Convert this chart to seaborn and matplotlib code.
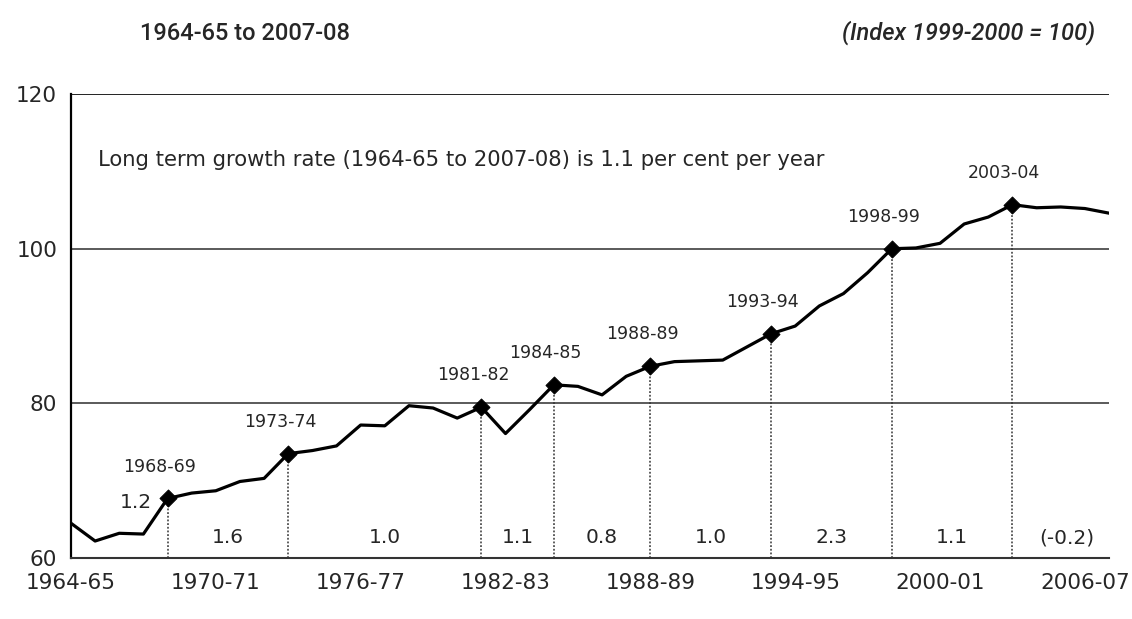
import numpy as np
import pandas as pd
import matplotlib.pyplot as plt
import seaborn as sns

# Productivity index, 1964-65 to 2007-08 (1999-2000 = 100)
years = ['%d-%02d' % (y, (y + 1) % 100) for y in range(1964, 2008)]
index_values = [64.5, 62.2, 63.2, 63.1, 67.7, 68.4, 68.7, 69.9, 70.3, 73.5,
                73.9, 74.5, 77.2, 77.1, 79.7, 79.4, 78.1, 79.5, 76.1, 79.2,
                82.4, 82.2, 81.1, 83.5, 84.8, 85.4, 85.5, 85.6, 87.3, 89.0,
                90.0, 92.6, 94.2, 96.9, 100.0, 100.1, 100.7, 103.2, 104.1, 105.7,
                105.3, 105.4, 105.2, 104.6]

# cycle peaks and growth rates between them
peak_years = ['1968-69', '1973-74', '1981-82', '1984-85', '1988-89',
              '1993-94', '1998-99', '2003-04']
growth_labels = ['1.2', '1.6', '1.0', '1.1', '0.8', '1.0', '2.3', '1.1', '(-0.2)']

tick_labels = ['1964-65', '1970-71', '1976-77', '1982-83', '1988-89',
               '1994-95', '2000-01', '2006-07']

df = pd.DataFrame({'year': years, 'value': index_values})
df['pos'] = np.arange(len(df))
peaks = df[df['year'].isin(peak_years)]

sns.set_style('white')
plt.rcParams['font.family'] = ['DejaVu Sans']

fig = plt.figure(figsize=(11.32, 6.19), dpi=100)
ax = fig.add_axes([0.0627, 0.0985, 0.9170, 0.7495])

# gridlines
for g in [80, 100]:
    ax.axhline(g, color='#4d4d4d', lw=1.3, zorder=1)
ax.axhline(120, color='#222222', lw=1.4, zorder=1)

# dotted drop lines from each peak
for _, r in peaks.iterrows():
    ax.plot([r['pos'], r['pos']], [60, r['value']], color='#333333',
            lw=1.1, ls=(0, (1.2, 1.2)), zorder=2)

sns.lineplot(data=df, x='pos', y='value', color='black', lw=2.3, ax=ax, zorder=3)
sns.scatterplot(data=peaks, x='pos', y='value', marker='D', s=75, color='black',
                edgecolor='black', ax=ax, zorder=4)

for _, r in peaks.iterrows():
    ax.annotate(r['year'], (r['pos'], r['value']), xytext=(-6, 23),
                textcoords='offset points', ha='center', va='center', fontsize=12.5)

# growth rates between peaks
pk = list(peaks['pos'])
ax.annotate(growth_labels[0], (pk[0], peaks['value'].iloc[0]), xytext=(-23, -3),
            textcoords='offset points', ha='center', va='center', fontsize=14.5)
bounds = pk + [df['pos'].iloc[-1] + 0.5]
for i, lab in enumerate(growth_labels[1:]):
    ax.text((bounds[i] + bounds[i + 1]) / 2, 62.6, lab, ha='center', va='center',
            fontsize=14.5)

ax.text(1.1, 111.5, 'Long term growth rate (1964-65 to 2007-08) is 1.1 per cent per year',
        ha='left', va='center', fontsize=15.2)

ax.set_xlim(0, len(df) - 1)
ax.set_ylim(60, 120)
ax.set_yticks([60, 80, 100, 120])
ax.set_xticks(np.arange(0, len(df), 6))
ax.set_xticklabels(tick_labels)
ax.tick_params(axis='both', labelsize=15.5, length=6, width=1.2, color='#333333',
               direction='out')
ax.tick_params(axis='x', pad=5)
ax.tick_params(axis='y', pad=4)
ax.set_xlabel('')
ax.set_ylabel('')
for s in ['top', 'right']:
    ax.spines[s].set_visible(False)
ax.spines['left'].set_color('black')
ax.spines['left'].set_linewidth(1.6)
ax.spines['bottom'].set_color('#333333')
ax.spines['bottom'].set_linewidth(1.5)

head_font = ['Roboto', 'DejaVu Sans']
fig.text(140 / 1132, 1 - 33 / 619, '1964-65 to 2007-08', ha='left', va='center',
         fontsize=17, fontweight='medium', family=head_font)
fig.text(1095 / 1132, 1 - 33 / 619, '(Index 1999-2000 = 100)', ha='right', va='center',
         fontsize=17, fontweight='medium', style='italic', family=head_font)

fig.savefig('out.png', dpi=100)
